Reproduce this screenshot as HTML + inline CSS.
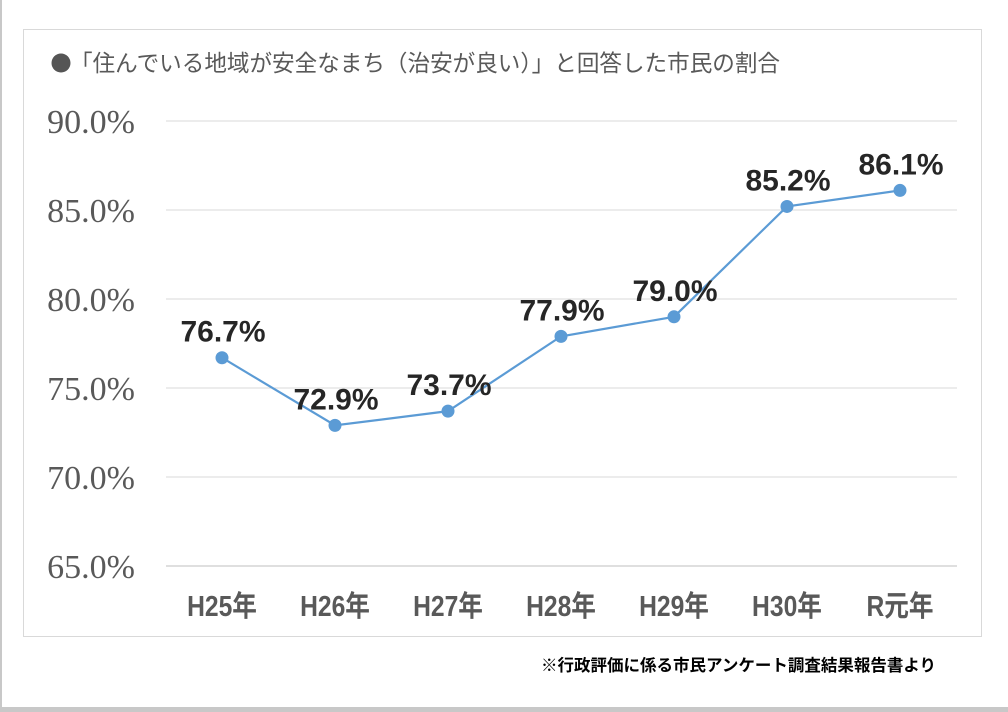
<!DOCTYPE html>
<html><head><meta charset="utf-8"><style>
body{margin:0;width:1008px;height:712px;background:#fff;overflow:hidden;position:relative;font-family:"Liberation Sans","Noto Sans CJK JP",sans-serif}
</style></head><body>
<div style="position:absolute;left:0;top:0;width:2px;height:712px;background:#c8c8c8"></div>
<div style="position:absolute;left:0;top:707px;width:1008px;height:5px;background:#c8c8c8"></div>
<svg width="1008" height="712" style="position:absolute;left:0;top:0">
<rect x="23.5" y="29.5" width="958" height="607" fill="#fff" stroke="#d9d9d9"/>
<circle cx="61" cy="63" r="9.5" fill="#555"/>
<text x="70" y="71" font-size="23" fill="#595959" textLength="710" lengthAdjust="spacingAndGlyphs" font-family="'Liberation Sans','Noto Sans CJK JP',sans-serif">「住んでいる地域が安全なまち（治安が良い）」と回答した市民の割合</text>
<g id="grid"></g><g id="ylab"></g><g id="xlab"></g><g id="series"></g>
<text x="936" y="671" text-anchor="end" font-size="16.5" font-weight="bold" fill="#000" font-family="'Liberation Sans','Noto Sans CJK JP',sans-serif">※行政評価に係る市民アンケート調査結果報告書より</text>
</svg>
<script>
const categories=["H25年","H26年","H27年","H28年","H29年","H30年","R元年"];
const values=[76.7,72.9,73.7,77.9,79.0,85.2,86.1];
const yTicks=[65,70,75,80,85,90];
const NS="http://www.w3.org/2000/svg";
const y=v=>121+(90-v)*(566-121)/25;
const x=i=>222+i*113;
function mk(t,a,p,txt){const e=document.createElementNS(NS,t);for(const k in a)e.setAttribute(k,a[k]);if(txt!==undefined)e.textContent=txt;document.getElementById(p).appendChild(e);return e;}
yTicks.forEach(v=>{
 const l=mk('line',{x1:166,x2:957,y1:y(v),y2:y(v),stroke:v===65?'#bfbfbf':'#d9d9d9','stroke-width':1},'grid');
 
 
 const t=mk('text',{x:135,y:y(v)+12,'text-anchor':'end','font-size':34,fill:'#595959','font-family':"'Liberation Serif',serif"},'ylab',v.toFixed(1)+'%');
 
 
});
categories.forEach((c,i)=>{
 const t=mk('text',{x:x(i),y:616,'text-anchor':'middle','font-size':29,'font-weight':'bold',fill:'#595959',transform:`translate(${x(i)},0) scale(0.85,1) translate(${-x(i)},0)`},'xlab',c);
 
 
});
const pts=values.map((v,i)=>x(i)+','+y(v)).join(' ');
const pl=mk('polyline',{points:pts,fill:'none',stroke:'#5b9bd5','stroke-width':2.2},'series');


values.forEach((v,i)=>{
 const c=mk('circle',{cx:x(i),cy:y(v),r:6.5,fill:'#5b9bd5'},'series');
 
 
 const t=mk('text',{x:x(i)+1,y:y(v)-16,'text-anchor':'middle','font-size':30,'font-weight':'bold',fill:'#262626'},'series',v.toFixed(1)+'%');
 
 
});
</script>
</body></html>
